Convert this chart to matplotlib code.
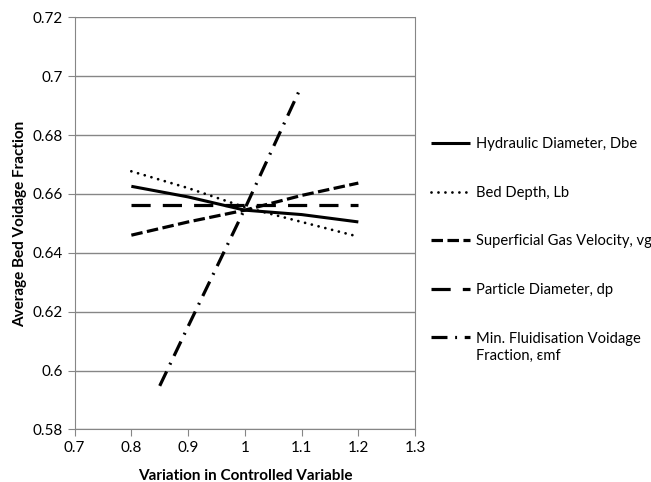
import numpy as np
import matplotlib.pyplot as plt

plt.rcParams['font.family'] = ['Lato', 'DejaVu Sans']

x5 = [0.8, 0.9, 1.0, 1.1, 1.2]
hydraulic = [0.6626, 0.6590, 0.6545, 0.6530, 0.6505]
bed_depth = [0.6677, 0.6620, 0.6555, 0.6505, 0.6455]
gas_vel = [0.6460, 0.6505, 0.6545, 0.6595, 0.6637]
particle = [0.6562, 0.6562, 0.6562, 0.6562, 0.6562]
x_emf = [0.85, 0.9, 1.0, 1.1]
emf = [0.5948, 0.6150, 0.6550, 0.6968]

labels = ["Hydraulic Diameter, Dbe", "Bed Depth, Lb",
          "Superficial Gas Velocity, vg", "Particle Diameter, dp",
          "Min. Fluidisation Voidage"]
label_extra = "Fraction, \u03b5mf"

fig = plt.figure(figsize=(6.51, 4.82), dpi=100)
ax = fig.add_axes([0.1146, 0.109, 0.523, 0.855])

l1, = ax.plot(x5, hydraulic, color='black', lw=2.2, solid_capstyle='butt')
l2, = ax.plot(x5, bed_depth, color='black', lw=2.0, linestyle=(0, (0.01, 2.5)),
              dash_capstyle='round')
l3, = ax.plot(x5, gas_vel, color='black', lw=2.3, linestyle=(0, (3.6, 1.4)))
l4, = ax.plot(x5, particle, color='black', lw=2.3, linestyle=(0, (6, 3.8)))
l5, = ax.plot(x_emf, emf, color='black', lw=2.3, linestyle=(0, (5, 2.4, 0.6, 2.4)))

ax.set_xlim(0.7, 1.3)
ax.set_ylim(0.58, 0.72)
ax.set_xticks(np.arange(0.7, 1.31, 0.1))
ax.set_xticklabels(['0.7', '0.8', '0.9', '1', '1.1', '1.2', '1.3'])
ax.set_yticks(np.arange(0.58, 0.721, 0.02))
ax.set_yticklabels(['0.58', '0.6', '0.62', '0.64', '0.66', '0.68', '0.7', '0.72'])
ax.grid(axis='y', color='#868686', lw=1)
ax.set_axisbelow(True)
for s in ['left', 'bottom', 'right']:
    ax.spines[s].set_color('#868686')
ax.spines['top'].set_visible(False)
ax.tick_params(colors='#868686', labelcolor='black', labelsize=11, length=5)

ax.set_xlabel("Variation in Controlled Variable", fontsize=11, fontweight='bold', labelpad=10)
ax.set_ylabel("Average Bed Voidage Fraction", fontsize=11, fontweight='bold', labelpad=4)

leg = fig.legend([l1, l2, l3, l4, l5], labels, loc='upper left',
                 bbox_to_anchor=(0.641, 0.743), frameon=False, fontsize=10.6,
                 handlelength=2.7, handletextpad=0.4, labelspacing=2.35)

# second line of the last legend label, aligned under its first line
fig.canvas.draw()
t = leg.get_texts()[-1]
bb = t.get_window_extent().transformed(fig.transFigure.inverted())
fig.text(bb.x0, bb.y0 - 0.008, label_extra, fontsize=10.6, va='top', ha='left')

fig.savefig('out.png', dpi=100)
